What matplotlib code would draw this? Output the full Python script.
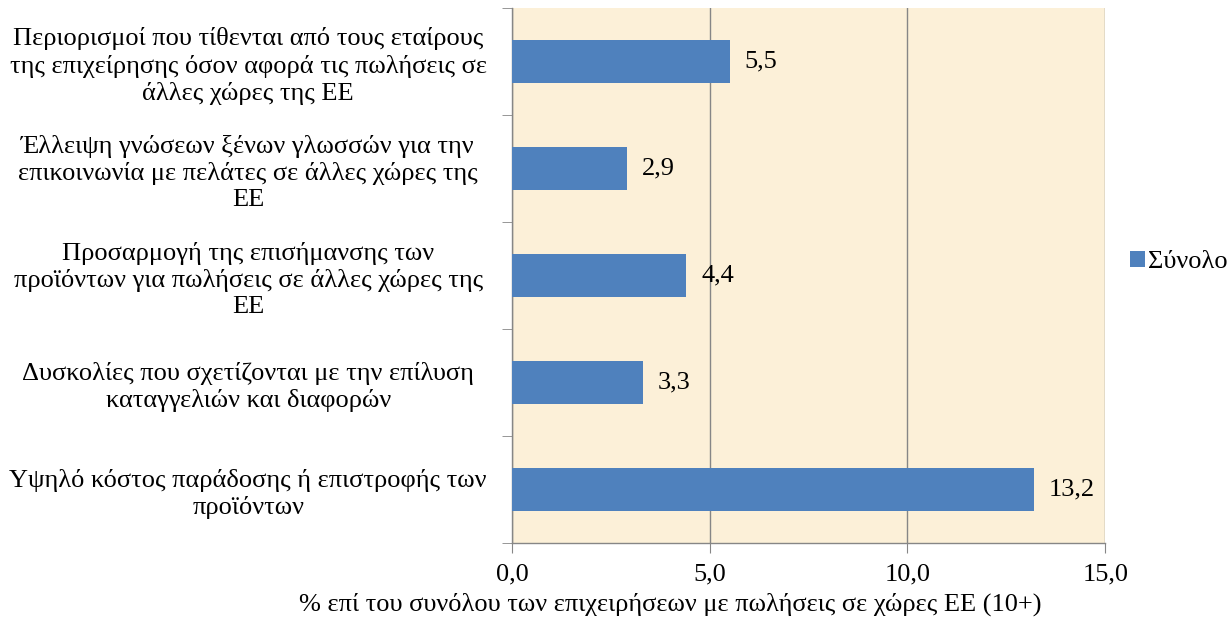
import numpy as np
import matplotlib.pyplot as plt
from matplotlib.ticker import FixedLocator, FuncFormatter

categories = [
    "Περιορισμοί που τίθενται από τους εταίρους\nτης επιχείρησης όσον αφορά τις πωλήσεις σε\nάλλες χώρες της ΕΕ",
    "Έλλειψη γνώσεων ξένων γλωσσών για την\nεπικοινωνία με πελάτες σε άλλες χώρες της\nΕΕ",
    "Προσαρμογή της επισήμανσης των\nπροϊόντων για πωλήσεις σε άλλες χώρες της\nΕΕ",
    "Δυσκολίες που σχετίζονται με την επίλυση\nκαταγγελιών και διαφορών",
    "Υψηλό κόστος παράδοσης ή επιστροφής των\nπροϊόντων",
]
values = [5.5, 2.9, 4.4, 3.3, 13.2]
series_name = "Σύνολο"
xlabel = "% επί του συνόλου των επιχειρήσεων με πωλήσεις σε χώρες ΕΕ (10+)"

plt.rcParams['font.family'] = ['Liberation Serif', 'DejaVu Serif']
fs = 19

fig = plt.figure(figsize=(12.28, 6.21), dpi=100)
ax = fig.add_axes([0.417, 0.126, 0.483, 0.861])
ax.set_facecolor('#fcf0d8')

y = np.arange(len(values))
bars = ax.barh(y, values, height=0.4, color='#4f81bd', label=series_name, zorder=3)
ax.set_ylim(len(values) - 0.5, -0.5)
ax.set_xlim(0, 15)

for yi, v in zip(y, values):
    ax.text(v + 0.38, yi, f"{v:.1f}".replace('.', ','), va='center', ha='left',
            fontsize=fs, zorder=4)

ax.xaxis.set_major_locator(FixedLocator([0, 5, 10, 15]))
ax.xaxis.set_major_formatter(FuncFormatter(lambda x, p: f"{x:.1f}".replace('.', ',')))
ax.grid(axis='x', color='#868686', linewidth=1, zorder=1)

ax.set_yticks(y)
ax.set_yticklabels(categories, fontsize=fs, ha='center', multialignment='center',
                   linespacing=1.25)
ax.tick_params(axis='y', length=0, pad=190)
ax.yaxis.set_minor_locator(FixedLocator(np.arange(-0.5, len(values), 1)))
ax.tick_params(axis='y', which='minor', length=7, color='#868686', direction='out')
ax.tick_params(axis='x', length=7, color='#868686', direction='out', labelsize=fs, pad=8)

for s in ['top', 'right']:
    ax.spines[s].set_visible(False)
for s in ['left', 'bottom']:
    ax.spines[s].set_color('#868686')
    ax.spines[s].set_linewidth(1)

fig.text(670 / 1228, 0.008, xlabel, ha='center', va='bottom', fontsize=fs)

fig.legend(handles=[bars], labels=[series_name], loc='center left',
           bbox_to_anchor=(1130 / 1228, 1 - 262 / 621), frameon=False,
           fontsize=fs, handlelength=0.55, handleheight=0.55, handletextpad=0.15,
           borderpad=0, borderaxespad=0)

fig.savefig('out.png', dpi=100)
